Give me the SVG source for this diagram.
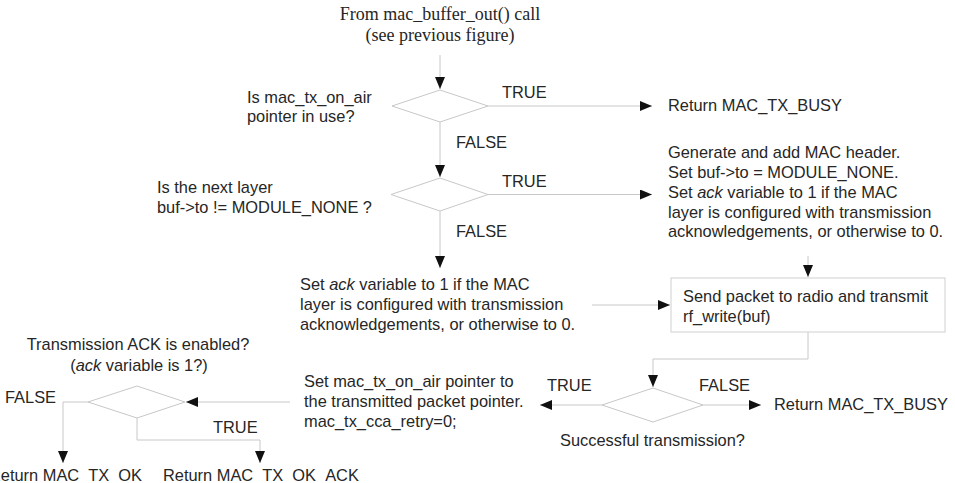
<svg xmlns="http://www.w3.org/2000/svg" width="955" height="483" viewBox="0 0 955 483">
<style>
  text { font-family: "Liberation Sans", Arial, sans-serif; font-size: 16.4px; fill: #262626; }
  .serif { font-family: "Liberation Serif", "Times New Roman", serif; font-size: 18px; }
  .mid { text-anchor: middle; }
  .dia { fill: #ffffff; stroke: #c8c8c8; stroke-width: 1; }
  .box { fill: #ffffff; stroke: #d0d0d0; stroke-width: 1; }
  .conn { fill: none; stroke: #c8c8c8; stroke-width: 1; }
  .arr { marker-end: url(#ah); }
</style>
<defs>
  <marker id="ah" markerUnits="userSpaceOnUse" markerWidth="13" markerHeight="11" refX="12" refY="5" orient="auto">
    <path d="M0,0 L12,5 L0,10 z" fill="#111111"/>
  </marker>
</defs>
<rect width="955" height="483" fill="#ffffff"/>

<g id="connectors">
  <path class="conn arr" d="M440,55 L440,89"/>
  <path class="conn arr" d="M488,106 L652,106"/>
  <path class="conn arr" d="M440,122 L440,177"/>
  <path class="conn arr" d="M488,194.5 L652,194.5"/>
  <path class="conn arr" d="M440,211 L440,268"/>
  <path class="conn arr" d="M808,256 L808,277"/>
  <path class="conn arr" d="M592,305 L670,305"/>
  <path class="conn arr" d="M808,332 L808,359 L653,359 L653,387"/>
  <path class="conn arr" d="M703,405 L761,405"/>
  <path class="conn arr" d="M602,405 L540,405"/>
  <path class="conn arr" d="M290,402 L186,402"/>
  <path class="conn arr" d="M88,402 L63,402 L63,463"/>
  <path class="conn arr" d="M137,418 L137,440 L260,440 L260,463"/>
</g>

<g id="start">
  <text class="serif mid" x="440" y="20">From mac_buffer_out() call</text>
  <text class="serif mid" x="440" y="41">(see previous figure)</text>
</g>

<g id="d1">
  <polygon class="dia" points="392,106 440,90 488,106 440,122"/>
  <text x="247" y="103">Is mac_tx_on_air</text>
  <text x="247" y="122">pointer in use?</text>
  <text x="502" y="98">TRUE</text>
  <text x="456" y="148">FALSE</text>
</g>

<g id="busy1">
  <text x="668" y="111">Return MAC_TX_BUSY</text>
</g>

<g id="d2">
  <polygon class="dia" points="391,194.5 440,178 488,194.5 440,211"/>
  <text x="157" y="193">Is the next layer</text>
  <text x="157" y="213">buf-&gt;to != MODULE_NONE ?</text>
  <text x="502" y="187">TRUE</text>
  <text x="456" y="237">FALSE</text>
</g>

<g id="genheader">
  <text x="668" y="158">Generate and add MAC header.</text>
  <text x="668" y="178">Set buf-&gt;to = MODULE_NONE.</text>
  <text x="668" y="198">Set <tspan font-style="italic">ack</tspan> variable to 1 if the MAC</text>
  <text x="668" y="217.5">layer is configured with transmission</text>
  <text x="668" y="237">acknowledgements, or otherwise to 0.</text>
</g>

<g id="setack">
  <text x="300" y="290">Set <tspan font-style="italic">ack</tspan> variable to 1 if the MAC</text>
  <text x="300" y="310">layer is configured with transmission</text>
  <text x="300" y="330">acknowledgements, or otherwise to 0.</text>
</g>

<g id="send">
  <rect class="box" x="671" y="278" width="274" height="54"/>
  <text x="683" y="302">Send packet to radio and transmit</text>
  <text x="683" y="322">rf_write(buf)</text>
</g>

<g id="d3">
  <polygon class="dia" points="602,405 653,388 703,405 653,422"/>
  <text x="547" y="391">TRUE</text>
  <text x="699" y="391">FALSE</text>
  <text x="560" y="446">Successful transmission?</text>
</g>

<g id="busy2">
  <text x="774" y="410">Return MAC_TX_BUSY</text>
</g>

<g id="setpointer">
  <text x="304" y="387">Set mac_tx_on_air pointer to</text>
  <text x="304" y="407">the transmitted packet pointer.</text>
  <text x="304" y="427">mac_tx_cca_retry=0;</text>
</g>

<g id="d4">
  <polygon class="dia" points="88,402 137,386 185,402 137,418"/>
  <text class="mid" x="138" y="350">Transmission ACK is enabled?</text>
  <text class="mid" x="139" y="371">(<tspan font-style="italic">ack</tspan> variable is 1?)</text>
  <text x="5" y="403">FALSE</text>
  <text x="213" y="433">TRUE</text>
</g>

<g id="ok">
  <text x="-11" y="481">Return MAC_TX_OK</text>
</g>

<g id="okack">
  <text x="163" y="481">Return MAC_TX_OK_ACK</text>
</g>
</svg>
